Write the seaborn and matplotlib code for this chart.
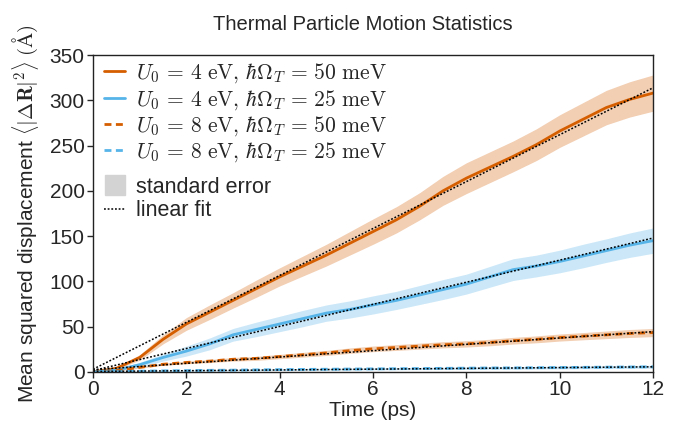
import numpy as np
import pandas as pd
import seaborn as sns
import matplotlib
matplotlib.use("Agg")
import matplotlib.pyplot as plt
from matplotlib.lines import Line2D

# ============================================================================
# DATA
# ============================================================================

time_ps = [0.0, 0.5, 1.0, 1.5, 2.0, 2.5, 3.0, 3.5, 4.0, 4.5, 5.0, 5.5, 6.0,
           6.5, 7.0, 7.5, 8.0, 8.5, 9.0, 9.5, 10.0, 10.5, 11.0, 11.5, 12.0]

# U0 = 4 eV, hbar Omega_T = 50 meV
msd_u4_50 = [0, 4, 16, 36, 53, 66, 79, 92, 105, 117, 129, 142, 155,
             168, 183, 200, 214, 226, 238, 251, 266, 279, 292, 301, 308]
se_u4_50 = [0, 1, 3, 5, 7, 8, 8.5, 9.5, 10, 11, 12, 13, 14,
            14.5, 15, 16, 17, 17, 17, 17.5, 18, 18.5, 19, 19.5, 20]

# U0 = 4 eV, hbar Omega_T = 25 meV
msd_u4_25 = [0, 2, 8, 16, 23, 31, 41, 47, 53, 59, 65, 69, 74,
             79, 85, 91, 97, 105, 113, 117, 122, 128, 134, 140, 145]
se_u4_25 = [0, 1, 2.5, 4, 5.5, 6.5, 7, 8, 8.5, 9, 9, 9.5, 10,
            10, 10.5, 11, 11, 11.5, 12, 12, 12.5, 13, 13, 13.5, 14]

# U0 = 8 eV, hbar Omega_T = 50 meV
msd_u8_50 = [0, 1.5, 5, 8.5, 10.5, 12, 14, 15, 17, 19, 21, 23.5, 25.5,
             27, 28.5, 30, 31, 32.5, 34.5, 36, 38, 39.5, 41, 42.5, 43.5]
se_u8_50 = [0, 0.4, 0.8, 1.2, 1.5, 1.7, 2, 2.2, 2.4, 2.6, 2.8, 3, 3.1,
            3.2, 3.3, 3.4, 3.5, 3.6, 3.7, 3.8, 3.9, 4, 4.2, 4.4, 4.5]

# U0 = 8 eV, hbar Omega_T = 25 meV
msd_u8_25 = [0, 0.3, 0.8, 1.2, 1.5, 1.8, 2.0, 2.3, 2.6, 2.8, 3.0, 3.2, 3.4,
             3.6, 3.8, 4.0, 4.2, 4.4, 4.5, 4.7, 4.9, 5.1, 5.3, 5.5, 5.7]
se_u8_25 = [0, 0.2, 0.4, 0.5, 0.6, 0.7, 0.8, 0.9, 0.9, 1.0, 1.0, 1.1, 1.1,
            1.2, 1.2, 1.3, 1.3, 1.4, 1.4, 1.4, 1.5, 1.5, 1.5, 1.6, 1.6]

# linear fits: slope (A^2/ps) and intercept (A^2)
fit_slope = [25.9, 12.2, 3.5, 0.43]
fit_intercept = [3.0, 1.5, 2.5, 0.5]

series_labels = [
    r'$U_0 \,=\, 4\ \mathrm{eV},\, \hbar\Omega_T \,=\, 50\ \mathrm{meV}$',
    r'$U_0 \,=\, 4\ \mathrm{eV},\, \hbar\Omega_T \,=\, 25\ \mathrm{meV}$',
    r'$U_0 \,=\, 8\ \mathrm{eV},\, \hbar\Omega_T \,=\, 50\ \mathrm{meV}$',
    r'$U_0 \,=\, 8\ \mathrm{eV},\, \hbar\Omega_T \,=\, 25\ \mathrm{meV}$',
]

ORANGE = '#D55E00'
BLUE = '#56B4E9'
colors = [ORANGE, BLUE, ORANGE, BLUE]
dash_styles = ['', '', (2.5, 1.6), (2.5, 1.6)]

# ============================================================================
# STYLE
# ============================================================================

sns.set_theme(style='ticks')
plt.rcParams['font.family'] = ['Liberation Sans', 'DejaVu Sans']
plt.rcParams['mathtext.fontset'] = 'cm'
plt.rcParams['axes.edgecolor'] = '#222222'
plt.rcParams['axes.linewidth'] = 1.0

msd_all = [msd_u4_50, msd_u4_25, msd_u8_50, msd_u8_25]
se_all = [se_u4_50, se_u4_25, se_u8_50, se_u8_25]

df = pd.concat([
    pd.DataFrame({'time': time_ps, 'msd': msd, 'series': lab})
    for msd, lab in zip(msd_all, series_labels)
], ignore_index=True)

# ============================================================================
# FIGURE
# ============================================================================

fig = plt.figure(figsize=(6.76, 4.30), dpi=100)
ax = fig.add_axes([0.1376, 0.135, 0.8284, 0.737])

t = np.array(time_ps)

# standard error bands
for msd, se, col in zip(msd_all, se_all, colors):
    msd = np.array(msd)
    se = np.array(se)
    ax.fill_between(t, msd - se, msd + se, color=col, alpha=0.3, lw=0)

# mean curves
sns.lineplot(data=df, x='time', y='msd', hue='series', style='series',
             palette=dict(zip(series_labels, colors)),
             dashes=dict(zip(series_labels, dash_styles)),
             linewidth=2.0, legend=False, ax=ax)

# linear fits
for m, b in zip(fit_slope, fit_intercept):
    ax.plot(t, b + m * t, color='black', ls=(0, (1.2, 1.2)), lw=1.1)

ax.set_xlim(0, 12)
ax.set_ylim(0, 350)
ax.set_xticks(np.arange(0, 13, 2))
ax.set_yticks(np.arange(0, 351, 50))
ax.tick_params(axis='both', direction='out', length=4, width=1,
               labelsize=15, top=False, right=False, pad=2)
for s in ax.spines.values():
    s.set_visible(True)

ax.set_xlabel('Time (ps)', fontsize=15, labelpad=1)
ax.set_ylabel(r'Mean squared displacement $\langle|\Delta\mathbf{R}|^2\rangle$ $(\mathrm{\AA})$',
              fontsize=15, labelpad=6)
ax.set_title('Thermal Particle Motion Statistics', fontsize=14.5, pad=18, x=0.482)

# legend: curves
handles = []
for lab, col, d in zip(series_labels, colors, dash_styles):
    h = Line2D([], [], color=col, lw=2.0)
    if d:
        h.set_dashes(d)
    handles.append(h)
leg1 = ax.legend(handles, series_labels, loc='upper left', frameon=False,
                 fontsize=15.5, handlelength=1.0, handletextpad=0.5,
                 labelspacing=0.12, borderaxespad=0.0, borderpad=0.3,
                 bbox_to_anchor=(0.008, 1.0))
ax.add_artist(leg1)

# legend: band + fit
extra_handles = [
    Line2D([], [], marker='s', ms=14, color='#d3d3d3', ls='none'),
    Line2D([], [], color='black', ls=(0, (1.2, 1.2)), lw=1.1),
]
ax.legend(extra_handles, ['standard error', 'linear fit'], loc='upper left',
          bbox_to_anchor=(0.008, 0.637), frameon=False, fontsize=15.5,
          handlelength=1.0, handletextpad=0.5, labelspacing=0.12,
          borderaxespad=0.0, borderpad=0.3)

plt.savefig('out.png', dpi=100)
